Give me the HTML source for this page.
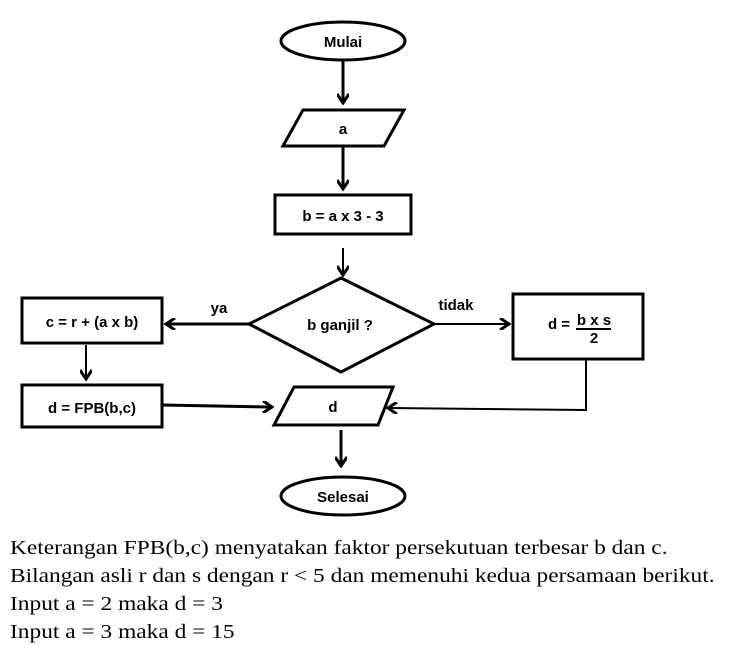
<!DOCTYPE html>
<html><head><meta charset="utf-8"><style>
html,body{margin:0;padding:0;background:#fff;width:747px;height:652px;overflow:hidden}
svg{position:absolute;left:0;top:0}
.t{font-family:"Liberation Sans",Arial,sans-serif;font-weight:bold;font-size:15px;fill:#000}
.p{position:absolute;left:10px;font-family:"Liberation Serif",serif;font-size:20px;color:#000;white-space:nowrap;transform:scaleX(1.17);transform-origin:0 0}
</style></head><body>
<svg width="747" height="652" viewBox="0 0 747 652">
<defs><marker id="a" markerWidth="12" markerHeight="12" refX="9" refY="6" orient="auto" markerUnits="userSpaceOnUse"><path d="M1,0 L10,6 L1,12" fill="none" stroke="#000" stroke-width="3"/></marker></defs>
<g fill="none" stroke="#000" stroke-width="3">
<ellipse cx="343" cy="41" rx="62" ry="19"/>
<line x1="343" y1="60" x2="343" y2="102" marker-end="url(#a)"/>
<polygon points="303,110 404,110 384,146 283,146"/>
<line x1="343" y1="146" x2="343" y2="188" marker-end="url(#a)"/>
<rect x="275" y="195" width="136" height="39"/>
<line x1="343" y1="248" x2="343" y2="274" stroke-width="2" marker-end="url(#a)"/>
<polygon points="341,278 434,324 341,372 249,324"/>
<line x1="249" y1="324" x2="167" y2="324" marker-end="url(#a)"/>
<line x1="434" y1="324" x2="508" y2="324" stroke-width="2" marker-end="url(#a)"/>
<rect x="22" y="298" width="140" height="45"/>
<rect x="513" y="294" width="130" height="65"/>
<line x1="86" y1="345" x2="86" y2="378" stroke-width="2" marker-end="url(#a)"/>
<rect x="22" y="385" width="140" height="42"/>
<line x1="162" y1="405" x2="271" y2="407" marker-end="url(#a)"/>
<polygon points="294,387 393,387 378,425 274,425"/>
<polyline points="586,359 586,410 389,408" stroke-width="2" marker-end="url(#a)"/>
<line x1="341" y1="430" x2="341" y2="465" marker-end="url(#a)"/>
<ellipse cx="343" cy="496" rx="62" ry="19"/>
</g>
<line x1="576" y1="329" x2="611" y2="329" stroke="#000" stroke-width="2"/>
<text class="t" x="343" y="47" text-anchor="middle">Mulai</text>
<text class="t" x="343" y="134" text-anchor="middle">a</text>
<text class="t" x="343" y="221" text-anchor="middle" font-size="17">b = a x 3 - 3</text>
<text class="t" x="340" y="330" text-anchor="middle" font-size="13">b ganjil ?</text>
<text class="t" x="219" y="313" text-anchor="middle" font-size="13">ya</text>
<text class="t" x="456" y="310" text-anchor="middle" font-size="13">tidak</text>
<text class="t" x="92" y="327" text-anchor="middle" font-size="17">c = r + (a x b)</text>
<text class="t" x="92" y="413" text-anchor="middle" font-size="17">d = FPB(b,c)</text>
<text class="t" x="333" y="412" text-anchor="middle">d</text>
<text class="t" x="343" y="502" text-anchor="middle" font-size="14">Selesai</text>
<text class="t" x="559" y="329" text-anchor="middle" font-size="13">d =</text>
<text class="t" x="594" y="325" text-anchor="middle" font-size="13">b x s</text>
<text class="t" x="594" y="343" text-anchor="middle" font-size="13">2</text>
</svg>
<div class="p" style="top:537px">Keterangan FPB(b,c) menyatakan faktor persekutuan terbesar b dan c.</div>
<div class="p" style="top:565px">Bilangan asli r dan s dengan r &lt; 5 dan memenuhi kedua persamaan berikut.</div>
<div class="p" style="top:593px">Input a = 2 maka d = 3</div>
<div class="p" style="top:621px">Input a = 3 maka d = 15</div>
</body></html>
